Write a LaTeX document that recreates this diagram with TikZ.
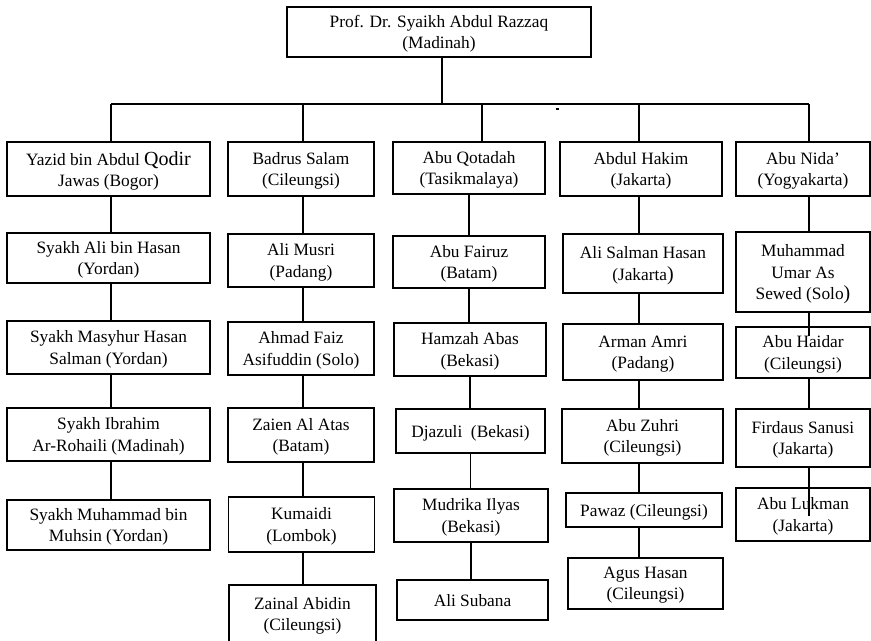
\documentclass[tikz,border=0pt]{standalone}
\usepackage{fontspec}
\setmainfont{Liberation Serif}

\begin{document}
\begin{tikzpicture}[x=0.75pt, y=-0.75pt, line width=0.9pt,
    box/.style={draw, align=center, inner sep=2pt, text depth=0pt, font=\fontsize{13}{16}\selectfont}]
    \useasboundingbox (0,0) rectangle (871,640);

    % Root
    \node[box, minimum width=228pt, minimum height=37.5pt] (root) at (439,32) {Prof. Dr. Syaikh Abdul Razzaq\\(Madinah)};

    % Points on the bar
    \coordinate (tr) at (442,104);
    \coordinate (t1) at (111,104);
    \coordinate (t2) at (303,104);
    \coordinate (t3) at (482,104);
    \coordinate (t4) at (639,104);
    \coordinate (t5) at (809,104);

    % First column
    \node[box, minimum width=152.25pt, minimum height=40.5pt] (a1) at (108.5,169) {Yazid bin Abdul {\fontsize{15}{16}\selectfont Qodir}\\Jawas (Bogor)};
    \node[box, minimum width=152.25pt, minimum height=37.5pt] (a2) at (108.5,258) {Syakh Ali bin Hasan\\(Yordan)};
    \node[box, minimum width=152.25pt, minimum height=39.75pt] (a3) at (108.5,347.5) {Syakh Masyhur Hasan\\Salman (Yordan)};
    \node[box, minimum width=152.25pt, minimum height=39.75pt] (a4) at (108.5,434.5) {Syakh Ibrahim\\Ar-Rohaili (Madinah)};
    \node[box, minimum width=152.25pt, minimum height=37.5pt] (a5) at (108.5,525) {Syakh Muhammad bin\\Muhsin (Yordan)};

    % Second column
    \node[box, minimum width=109.5pt, minimum height=40.5pt] (b1) at (301,169) {Badrus Salam\\(Cileungsi)};
    \node[box, minimum width=109.5pt, minimum height=39.75pt] (b2) at (301,260.5) {Ali Musri\\(Padang)};
    \node[box, minimum width=109.5pt, minimum height=39.75pt] (b3) at (301,348.5) {Ahmad Faiz\\Asifuddin (Solo)};
    \node[box, minimum width=109.5pt, minimum height=40.5pt] (b4) at (301,435) {Zaien Al Atas\\(Batam)};
    \node[box, minimum width=109.5pt, minimum height=41.25pt] (b5) at (301.5,524.5) {Kumaidi\\(Lombok)};
    \node[box, minimum width=110.25pt, minimum height=43.5pt] (b6) at (302.5,614) {Zainal Abidin\\(Cileungsi)};

    % Third column
    \node[box, minimum width=114pt, minimum height=39pt] (c1) at (469,168) {Abu Qotadah\\(Tasikmalaya)};
    \node[box, minimum width=114pt, minimum height=39pt] (c2) at (469,262) {Abu Fairuz\\(Batam)};
    \node[box, minimum width=114pt, minimum height=39.75pt] (c3) at (470,349.5) {Hamzah Abas\\(Bekasi)};
    \node[box, minimum width=111.75pt, minimum height=33pt] (c4) at (470.5,431) {Djazuli\ \ (Bekasi)};
    \node[box, minimum width=115.5pt, minimum height=39.75pt] (c5) at (471,515.5) {Mudrika Ilyas\\(Bekasi)};
    \node[box, minimum width=113.25pt, minimum height=30pt] (c6) at (472.5,600) {Ali Subana};

    % Fourth column
    \node[box, minimum width=121.5pt, minimum height=40.5pt] (d1) at (641,169) {Abdul Hakim\\(Jakarta)};
    \node[box, minimum width=120pt, minimum height=44.25pt] (d2) at (643,263.5) {Ali Salman Hasan\\(Jakarta{\fontsize{15}{16}\selectfont )}};
    \node[box, minimum width=120pt, minimum height=42pt] (d3) at (643,352) {Arman Amri\\(Padang)};
    \node[box, minimum width=120.75pt, minimum height=40.5pt] (d4) at (642.5,436) {Abu Zuhri\\(Cileungsi)};
    \node[box, minimum width=117pt, minimum height=25.5pt] (d5) at (644,510) {Pawaz (Cileungsi)};
    \node[box, minimum width=116.25pt, minimum height=38.25pt] (d6) at (645.5,583.5) {Agus Hasan\\(Cileungsi)};

    % Fifth column
    \node[box, minimum width=100.5pt, minimum height=40.5pt] (e1) at (803,169) {Abu Nida’\\(Yogyakarta)};
    \node[box, minimum width=100.5pt, minimum height=60pt] (e2) at (803,272) {Muhammad\\Umar As\\Sewed (Solo{\fontsize{15}{16}\selectfont )}};
    \node[box, minimum width=100.5pt, minimum height=38.25pt] (e3) at (803,352.5) {Abu Haidar\\(Cileungsi)};
    \node[box, minimum width=100.5pt, minimum height=43.5pt] (e4) at (803,438) {Firdaus Sanusi\\(Jakarta)};
    \node[box, minimum width=100.5pt, minimum height=39.75pt] (e5) at (803,514.5) {Abu Lukman\\(Jakarta)};

    % Bar and drops
    \draw (root.south -| tr) -- (tr);
    \draw (t1) -- (t5);
    \draw (t1) -- (t1 |- a1.north);
    \draw (t2) -- (t2 |- b1.north);
    \draw (t3) -- (t3 |- c1.north);
    \draw (t4) -- (t4 |- d1.north);
    \draw (t5) -- (t5 |- e1.north);
    \draw[line width=1pt] (555.5,109) -- (558.5,109);

    % Lines down each column
    \draw (a1.south -| t1) -- (a2.north -| t1);
    \draw (a2.south -| t1) -- (a3.north -| t1);
    \draw (a3.south -| t1) -- (a4.north -| t1);
    \draw (a4.south -| t1) -- (a5.north -| t1);

    \draw (b1.south -| t2) -- (b2.north -| t2);
    \draw (b2.south -| t2) -- (b3.north -| t2);
    \draw (b3.south -| t2) -- (b4.north -| t2);
    \draw (b4.south -| t2) -- (b5.north -| t2);
    \draw (b5.south -| t2) -- (b6.north -| t2);

    \draw (c1.south) -- (c1.south |- c2.north);
    \draw (c2.south) -- (c2.south |- c3.north);
    \draw (c3.south) -- (c3.south |- c4.north);
    \draw (c4.south) -- (c4.south |- c5.north);
    \draw (c5.south) -- (c5.south |- c6.north);

    \draw (d1.south -| t4) -- (d2.north -| t4);
    \draw (d2.south -| t4) -- (d3.north -| t4);
    \draw (d3.south -| t4) -- (d4.north -| t4);
    \draw (d4.south -| t4) -- (d5.north -| t4);
    \draw (d5.south -| t4) -- (d6.north -| t4);

    \draw (e1.south -| t5) -- (e2.north -| t5);
    \draw[shorten >=-7.5pt] (e2.south -| t5) -- (e3.north -| t5);
    \draw (e3.south -| t5) -- (e4.north -| t5);
    \draw[shorten >=-21.75pt] (e4.south -| t5) -- (e5.north -| t5);
\end{tikzpicture}
\end{document}
